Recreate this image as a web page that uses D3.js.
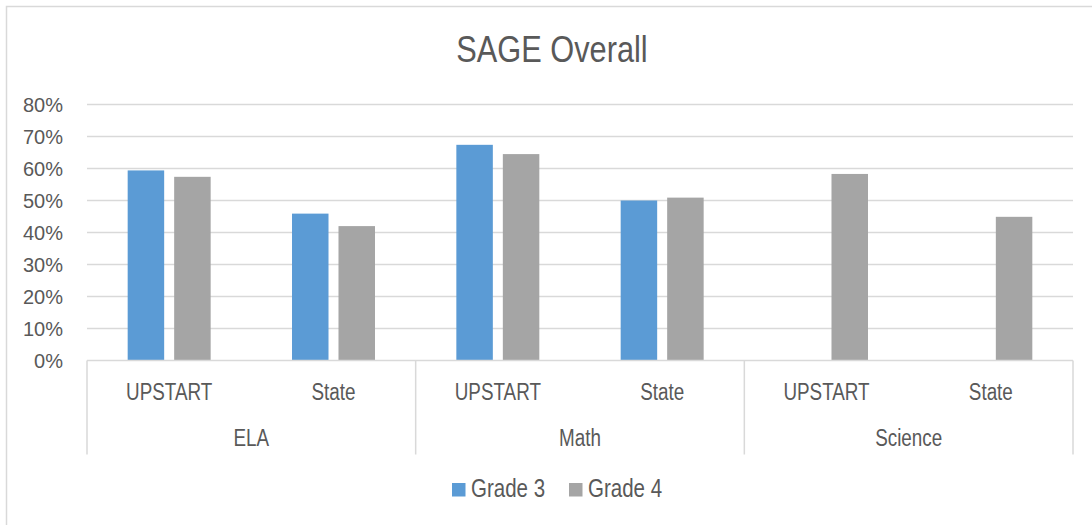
<!DOCTYPE html>
<html>
<head>
<meta charset="utf-8">
<script src="https://cdn.jsdelivr.net/npm/d3@7"></script>
<style>
    body { margin: 0; background: #fff; }
    .narrow { font-family: "Liberation Sans", Arial, sans-serif; fill: #595959; }
    .tick-text { font-family: "Liberation Sans", Arial, sans-serif; fill: #595959; }
</style>
</head>
<body>
<div id="wrapper"></div>
<script>
const subjects = ["ELA", "Math", "Science"]
const groups = ["UPSTART", "State"]
const seriesNames = ["Grade 3", "Grade 4"]
const seriesColors = ["#5b9bd5", "#a5a5a5"]
// values per category, order: ELA UPSTART, ELA State, Math UPSTART, Math State, Science UPSTART, Science State
const grade3 = [0.594, 0.459, 0.674, 0.500, null, null]
const grade4 = [0.574, 0.420, 0.645, 0.509, 0.583, 0.449]
const yTicks = [0, 0.1, 0.2, 0.3, 0.4, 0.5, 0.6, 0.7, 0.8]

const dimensions = {
    width: 1092,
    height: 525,
    margin: { top: 104.5, right: 19, bottom: 164.5, left: 87 }
}
dimensions.boundedWidth = dimensions.width - dimensions.margin.left - dimensions.margin.right
dimensions.boundedHeight = dimensions.height - dimensions.margin.top - dimensions.margin.bottom

// the reference uses a condensed face; squeeze the regular one horizontally
const squeeze = 0.82

const categories = []
subjects.forEach(s => groups.forEach(g => categories.push({ subject: s, group: g, key: s + "|" + g })))

const svg = d3.select("#wrapper")
    .append("svg")
        .attr("width", dimensions.width)
        .attr("height", dimensions.height)

function narrowText(parent, x, y, size, anchor, label) {
    return parent.append("text")
        .attr("class", "narrow")
        .attr("transform", `translate(${x}, ${y}) scale(${squeeze}, 1)`)
        .attr("text-anchor", anchor)
        .style("font-size", size + "px")
        .text(label)
}

// chart frame (only left and top edges are inside the picture)
svg.append("rect")
    .attr("x", 6.5)
    .attr("y", 6.5)
    .attr("width", dimensions.width + 20)
    .attr("height", dimensions.height + 20)
    .attr("fill", "none")
    .attr("stroke", "#d9d9d9")
    .attr("stroke-width", 1.5)

narrowText(svg, 552, 62, 37.5, "middle", "SAGE Overall")

const bounds = svg.append("g")
    .attr("transform", `translate(${dimensions.margin.left}, ${dimensions.margin.top})`)

const yScale = d3.scaleLinear()
    .domain([0, 0.8])
    .range([dimensions.boundedHeight, 0])

const xScale = d3.scaleBand()
    .domain(categories.map(d => d.key))
    .range([0, dimensions.boundedWidth])

const x1Scale = d3.scaleBand()
    .domain(seriesNames)
    .range([0, xScale.bandwidth()])
    .paddingInner(0.215)
    .paddingOuter(0.875)

// gridlines
bounds.append("g")
    .selectAll("line")
    .data(yTicks.filter(t => t > 0))
    .join("line")
        .attr("x1", 0)
        .attr("x2", dimensions.boundedWidth)
        .attr("y1", d => yScale(d))
        .attr("y2", d => yScale(d))
        .attr("stroke", "#d9d9d9")
        .attr("stroke-width", 1.5)

// y axis labels
bounds.append("g")
    .selectAll("text")
    .data(yTicks)
    .join("text")
        .attr("class", "tick-text")
        .attr("x", -24)
        .attr("y", d => yScale(d) + 7)
        .attr("text-anchor", "end")
        .style("font-size", "20px")
        .text(d => d3.format(".0%")(d))

// bars
const seriesData = [grade3, grade4]
seriesData.forEach((values, i) => {
    bounds.append("g")
        .selectAll("rect")
        .data(categories.map((c, j) => ({ key: c.key, value: values[j] })).filter(d => d.value != null))
        .join("rect")
            .attr("x", d => xScale(d.key) + x1Scale(seriesNames[i]))
            .attr("width", x1Scale.bandwidth())
            .attr("y", d => yScale(d.value))
            .attr("height", d => dimensions.boundedHeight - yScale(d.value))
            .attr("fill", seriesColors[i])
})

// category axis with boxes
const axisG = bounds.append("g")
    .attr("transform", `translate(0, ${dimensions.boundedHeight})`)

axisG.append("line")
    .attr("x1", 0)
    .attr("x2", dimensions.boundedWidth)
    .attr("stroke", "#d9d9d9")
    .attr("stroke-width", 1.5)

const subjectWidth = dimensions.boundedWidth / subjects.length
axisG.selectAll(".sep")
    .data(d3.range(subjects.length + 1))
    .join("line")
        .attr("class", "sep")
        .attr("x1", d => d * subjectWidth)
        .attr("x2", d => d * subjectWidth)
        .attr("y1", 0)
        .attr("y2", 94)
        .attr("stroke", "#d9d9d9")
        .attr("stroke-width", 1.5)

categories.forEach(d => {
    narrowText(axisG, xScale(d.key) + xScale.bandwidth() / 2, 39.5, 23, "middle", d.group)
})

subjects.forEach((d, i) => {
    narrowText(axisG, (i + 0.5) * subjectWidth, 85.5, 23, "middle", d)
})

// legend
const legend = svg.append("g")
    .attr("transform", "translate(452, 483)")
const legendOffsets = [0, 117]
seriesNames.forEach((name, i) => {
    const item = legend.append("g")
        .attr("transform", `translate(${legendOffsets[i]}, 0)`)
    item.append("rect")
        .attr("width", 13.5)
        .attr("height", 13.5)
        .attr("fill", seriesColors[i])
    narrowText(item, 19, 13.7, 25, "start", name)
})
</script>
</body>
</html>
